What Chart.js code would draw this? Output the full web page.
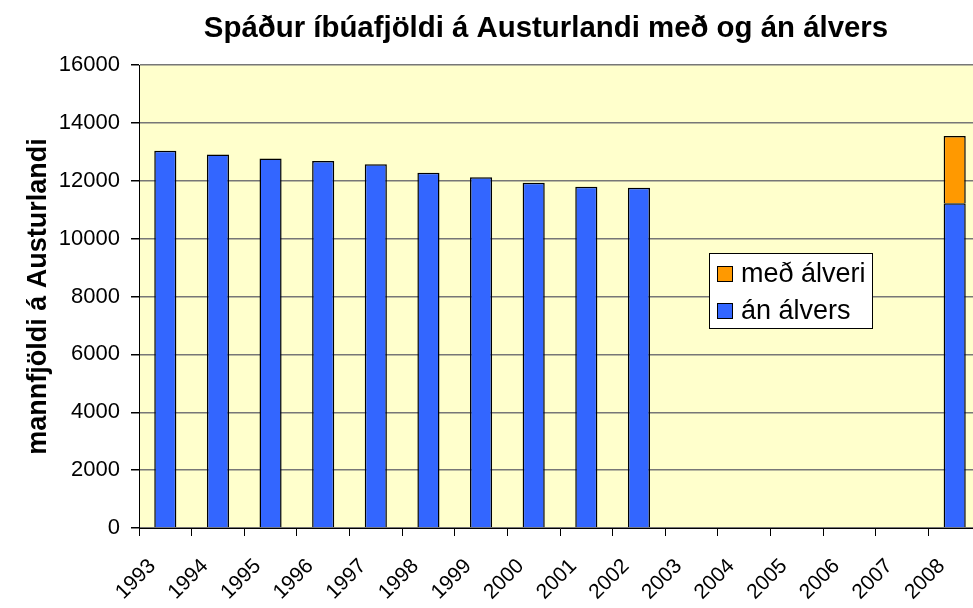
<!DOCTYPE html>
<html>
<head>
<meta charset="utf-8">
<script src="https://cdn.jsdelivr.net/npm/chart.js@4"></script>
<style>
  html, body { margin: 0; padding: 0; overflow: hidden; background: #fff; }
  #wrap { width: 981px; height: 608px; }
</style>
</head>
<body>
<div id="wrap"><canvas id="chart"></canvas></div>
<script>
const chartTitle = 'Spáður íbúafjöldi á Austurlandi með og án álvers';
const yTitle = 'mannfjöldi á Austurlandi';
const years = ['1993', '1994', '1995', '1996', '1997', '1998', '1999', '2000',
  '2001', '2002', '2003', '2004', '2005', '2006', '2007', '2008'];
const anAlvers = [13040, 12910, 12770, 12680, 12570, 12280, 12120, 11930,
  11790, 11760, null, null, null, null, null, 11220];
const medAlveri = [null, null, null, null, null, null, null, null,
  null, null, null, null, null, null, null, 2330];

const font = 'Liberation Sans, Arial, sans-serif';

// yellow plot background, title and the in-plot legend box
const decor = {
  id: 'decor',
  beforeDraw(chart) {
    const { ctx, chartArea: a } = chart;
    ctx.save();
    ctx.fillStyle = '#FFFFCC';
    ctx.fillRect(a.left, a.top, a.right - a.left, a.bottom - a.top);
    ctx.restore();
  },
  afterDraw(chart) {
    const ctx = chart.ctx;
    ctx.save();
    ctx.fillStyle = '#000';
    ctx.font = 'bold 29.4px ' + font;
    ctx.textAlign = 'center';
    ctx.textBaseline = 'middle';
    ctx.fillText(chartTitle, 546, 29);

    // legend
    const x = 709, y = 253, w = 163, h = 75;
    ctx.fillStyle = '#fff';
    ctx.fillRect(x, y, w, h);
    ctx.strokeStyle = '#000';
    ctx.lineWidth = 1;
    ctx.strokeRect(x + 0.5, y + 0.5, w, h);
    const items = chart.data.datasets.slice().reverse();
    ctx.font = '27px ' + font;
    ctx.textAlign = 'left';
    items.forEach((ds, i) => {
      const cy = y + 21 + i * 37;
      ctx.fillStyle = ds.backgroundColor;
      ctx.fillRect(x + 8, cy - 8, 16, 16);
      ctx.strokeRect(x + 8.5, cy - 7.5, 15, 15);
      ctx.fillStyle = '#000';
      ctx.fillText(ds.label, x + 32, cy + 1);
    });
    ctx.restore();
  }
};

new Chart(document.getElementById('chart'), {
  type: 'bar',
  data: {
    labels: years,
    datasets: [
      {
        label: 'án álvers',
        data: anAlvers,
        backgroundColor: '#3366FF',
        borderColor: '#000',
        borderWidth: 1.5,
        barPercentage: 0.84,
        categoryPercentage: 0.5
      },
      {
        label: 'með álveri',
        data: medAlveri,
        backgroundColor: '#FF9900',
        borderColor: '#000',
        borderWidth: 1.5,
        barPercentage: 0.84,
        categoryPercentage: 0.5
      }
    ]
  },
  options: {
    responsive: true,
    maintainAspectRatio: false,
    animation: false,
    layout: { padding: { top: 65, right: 0, left: 0, bottom: 0 } },
    plugins: {
      legend: { display: false },
      tooltip: { enabled: false },
      title: { display: false }
    },
    scales: {
      x: {
        stacked: true,
        afterFit(s) {
          s.height = 80;
          s.paddingLeft = 0;
          s.paddingRight = 0;
        },
        grid: {
          offset: true,
          drawOnChartArea: false,
          drawTicks: true,
          tickLength: 8,
          color: '#000'
        },
        border: { color: '#000', width: 1 },
        ticks: {
          color: '#000',
          font: { family: font, size: 21 },
          maxRotation: 45,
          minRotation: 45,
          autoSkip: false,
          padding: 18,
          labelOffset: -13
        }
      },
      y: {
        stacked: true,
        min: 0,
        max: 16000,
        afterFit(s) { s.width = 139; },
        grid: {
          color: '#777',
          lineWidth: 1.5,
          tickLength: 8,
          tickColor: '#000'
        },
        border: { color: '#000', width: 1 },
        ticks: {
          stepSize: 2000,
          color: '#000',
          font: { family: font, size: 22 },
          padding: 11,
          callback: v => String(v)
        },
        title: {
          display: true,
          text: yTitle,
          color: '#000',
          font: { family: font, size: 27, weight: 'bold' },
          padding: { top: 22, bottom: 0 }
        }
      }
    }
  },
  plugins: [decor]
});
</script>
</body>
</html>
